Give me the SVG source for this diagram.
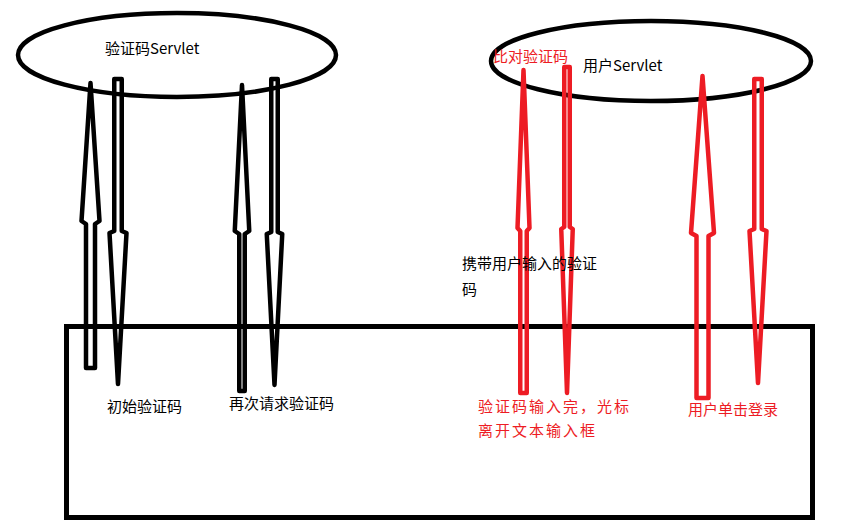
<svg xmlns="http://www.w3.org/2000/svg" width="841" height="528" viewBox="0 0 841 528">
  <style>
    .shape { fill: none; stroke: #000; stroke-width: 4.5; }
    .arrow { fill: none; stroke-width: 4.5; stroke-linejoin: round; }
    .blk { stroke: #000; }
    .red { stroke: #ED1C24; }
    text { font-family: "Noto Sans CJK SC", "Noto Sans", sans-serif; font-size: 15px; }
    .t-red { fill: #ED1C24; }
    .t-blk { fill: #000; }
  </style>
  <rect width="841" height="528" fill="#fff"/>

  <g id="captcha-servlet">
    <ellipse class="shape" cx="177" cy="55" rx="159" ry="42"/>
    <text class="t-blk" x="105" y="54">验证码Servlet</text>
  </g>

  <g id="user-servlet">
    <ellipse class="shape" cx="651" cy="61" rx="160" ry="40"/>
    <text class="t-blk" x="583" y="71">用户Servlet</text>
  </g>

  <g id="browser-page">
    <rect x="66.5" y="326.5" width="746" height="191" fill="none" stroke="#000" stroke-width="5"/>
  </g>

  <g id="connectors">
    <!-- initial captcha: up and down -->
    <polygon class="arrow blk" points="90.5,83 99.5,221 95,224 95,368 86,368 86,224 81.5,221"/>
    <polygon class="arrow blk" points="114.25,79 121.75,79 121.75,231 126.5,233 118,384 109.5,233 114.25,231"/>
    <!-- request captcha again -->
    <polygon class="arrow blk" points="242,85 249.25,231 244.75,234 244.75,391 239.25,391 239.25,234 234.75,231"/>
    <polygon class="arrow blk" points="271.25,79 277.75,79 277.75,232 282.25,234 274.5,385 266.75,234 271.25,232"/>
    <!-- compare captcha -->
    <polygon class="arrow red" points="523.5,70 529.5,228 526.75,231 526.75,393 520.25,393 520.25,231 517.5,228"/>
    <polygon class="arrow red" points="564.25,67 569.75,67 569.75,227 572.75,229 567,393 561.25,229 564.25,227"/>
    <!-- user login -->
    <polygon class="arrow red" points="702.5,76 714,233 708.5,236 708.5,398 696.5,398 696.5,236 691,233"/>
    <polygon class="arrow red" points="754.25,79 761.75,79 761.75,229 766.5,231 758,383 749.5,231 754.25,229"/>

    <text class="t-blk" x="107" y="412">初始验证码</text>
    <text class="t-blk" x="229" y="409">再次请求验证码</text>
    <text class="t-red" x="493" y="62">比对验证码</text>
    <text class="t-blk" x="462" y="269">携带用户输入的验证</text>
    <text class="t-blk" x="462" y="295">码</text>
    <text class="t-red" x="478" y="412" letter-spacing="2">验证码输入完，光标</text>
    <text class="t-red" x="478" y="436" letter-spacing="2">离开文本输入框</text>
    <text class="t-red" x="688" y="415">用户单击登录</text>
  </g>
</svg>
